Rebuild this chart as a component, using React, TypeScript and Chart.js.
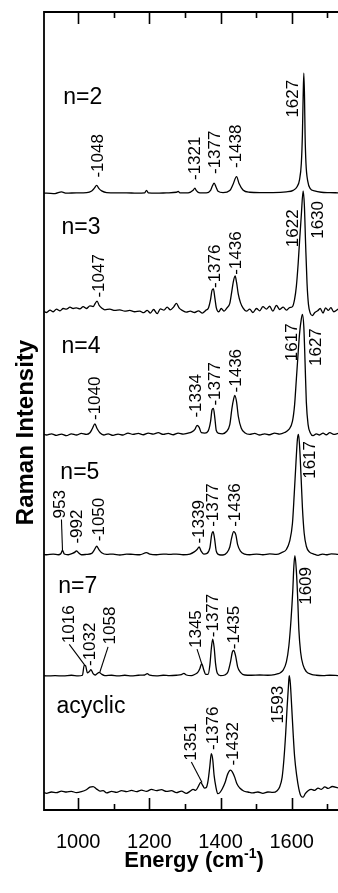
import React, { useEffect, useRef } from 'react';
import { Chart, registerables } from 'chart.js';

Chart.register(...registerables);

// ---- axes ----
const X_MIN = 904;
const X_MAX = 1730;
const Y_MIN = 0;
const Y_MAX = 665;
const X_TICK_LABELS = [1000, 1200, 1400, 1600];
const X_MINOR_TICKS = [1100, 1300, 1500, 1700];
const X_TITLE_MAIN = 'Energy (cm';
const X_TITLE_SUP = '-1';
const X_TITLE_END = ')';
const Y_TITLE = 'Raman Intensity';

// ---- spectra (wavenumber cm-1, relative intensity %) ----
const SPECTRUM_NAMES = ['n=2', 'n=3', 'n=4', 'n=5', 'n=7', 'acyclic'];
const OFFSETS = [514, 416, 313, 213, 112, 15];

const N2: number[][] = [
  [904, 0], [911, 0], [935, -0.3], [953, 1.1], [967, 0], [995, 0.3], [1024, 0.5], [1038, 1.9], [1045, 4], [1052, 6.5],
  [1058, 4], [1066, 1.9], [1080, 0.5], [1108, 0.3], [1136, 0.3], [1164, 0], [1187, 0.3], [1192, 2.4], [1197, 0.3],
  [1220, 0], [1248, 0.3], [1276, 0.8], [1281, 1.4], [1286, 0.3], [1309, 0.3], [1323, 2.4], [1328, 4.3], [1332, 2.2],
  [1342, 0.3], [1360, 0.3], [1372, 2.4], [1377, 6], [1382, 8.4], [1387, 5.4], [1393, 1.6], [1407, 0.5], [1426, 2.2],
  [1435, 7.3], [1445, 13.8], [1452, 8.1], [1463, 2.7], [1482, 0.8], [1510, 0.5], [1547, 0.5], [1585, 1.1], [1604, 2.4],
  [1615, 5.4], [1622, 11.4], [1627, 25], [1630, 49], [1632, 79], [1634, 100], [1636, 79], [1637.5, 49], [1640, 25],
  [1645, 10], [1652, 3.8], [1664, 1.9], [1683, 0.8], [1707, 0.5], [1730, 0.3],
];

const N3: number[][] = [
  [904, -0.5], [911, -1.4], [921, 0.5], [930, -0.8], [939, 1.4], [949, 0], [958, 1.9], [967, 1.4], [977, 3], [986, 1.9],
  [995, 2.4], [1005, 1.6], [1014, 3.5], [1023, 1.9], [1033, 4.1], [1042, 3.5], [1048, 6.2], [1053, 8.1], [1059, 4.6],
  [1066, 2.4], [1075, 0.8], [1089, 1.4], [1103, 0.3], [1117, 0.8], [1131, -0.3], [1145, 0.3], [1159, -0.8], [1173, -0.3],
  [1184, -1.6], [1194, 0.3], [1203, -1.9], [1212, 1.1], [1222, -2.4], [1231, 1.6], [1241, 0.5], [1250, 3], [1259, 0.8],
  [1269, 3.5], [1276, 6.2], [1284, 2.2], [1293, 0.3], [1304, -1.1], [1315, -0.3], [1327, -1.4], [1338, 0], [1349, -1.9],
  [1358, 0.3], [1366, 2.4], [1372, 9.5], [1376, 17], [1380, 18.2], [1384, 10.8], [1388, 2.7], [1395, -0.8], [1402, 1.9],
  [1410, -0.3], [1418, 2.4], [1426, 6.2], [1431, 14.9], [1436, 24.4], [1441, 29], [1445, 23.6], [1450, 13.6], [1456, 6.8],
  [1463, 2.4], [1473, -0.3], [1482, 1.4], [1491, -1.4], [1501, 1.9], [1510, 0], [1519, 3.5], [1529, 1.4], [1538, 3.8],
  [1547, -0.3], [1557, 4.6], [1566, 1.1], [1576, 3], [1585, 0.5], [1594, 2.7], [1602, 3.5], [1608, 9.5], [1613, 20.3],
  [1618, 39], [1622, 58], [1627, 80], [1632, 100], [1635.5, 88], [1639, 55.6], [1643, 23], [1647, 5.4], [1652, -1.9],
  [1658, -4], [1665, -1.4], [1673, 0], [1680, 1.9], [1688, -1.9], [1695, 2.4], [1703, 0.3], [1710, 2.7], [1718, -0.8],
  [1730, 1.4],
];

const N4: number[][] = [
  [904, 0], [911, -0.5], [925, 0.5], [939, -0.8], [953, 0.3], [967, -1.1], [981, 0.5], [995, -0.5], [1009, 0.8], [1023, 0],
  [1033, 1.4], [1040, 4.9], [1047, 8.7], [1053, 4.9], [1061, 1.4], [1072, -0.5], [1084, 0.5], [1098, -0.8], [1112, 0.3],
  [1126, -0.5], [1140, 1.1], [1154, 0], [1169, 0.8], [1183, -0.3], [1197, 1.1], [1211, 0.3], [1225, 1.4], [1239, 0],
  [1253, 0.8], [1267, -0.3], [1281, 1.1], [1295, 0.3], [1309, 1.1], [1318, 1.9], [1328, 4.1], [1334, 7.6], [1340, 5.9],
  [1346, 1.4], [1356, 1.1], [1365, 2.7], [1372, 10.8], [1376, 20.3], [1380, 21.7], [1384, 13.6], [1388, 3.3], [1396, 0.8],
  [1405, 0.5], [1416, 2.2], [1426, 8.1], [1432, 21.7], [1437, 29.8], [1440, 32.5], [1445, 27.1], [1450, 14.9], [1458, 5.4],
  [1468, 1.4], [1482, 0], [1496, 0.8], [1510, -0.5], [1524, 0.5], [1538, -0.3], [1552, 1.1], [1566, 0.3], [1580, 1.6],
  [1592, 4.1], [1602, 10.8], [1608, 24.4], [1613, 46], [1618, 67.8], [1622, 84], [1627, 96.2], [1630, 100], [1634, 89.4],
  [1637.5, 59.6], [1641, 27.1], [1646, 8.1], [1652, 1.4], [1660, -1.1], [1669, 0.5], [1678, -0.5], [1688, 1.1],
  [1697, -0.3], [1707, 1.4], [1718, 0], [1730, 0.8],
];

const N5: number[][] = [
  [904, 0], [911, -0.3], [930, 0.3], [944, -0.3], [951, 0.5], [956, 3.3], [961, 0.3], [972, -0.3], [984, 0.8], [991, 1.9],
  [995, 3], [1001, 1.4], [1009, -0.3], [1023, 0], [1038, 0.8], [1045, 3.5], [1052, 6.8], [1058, 4.1], [1066, 1.4],
  [1080, 0], [1098, 0.3], [1117, -0.5], [1136, 0.3], [1154, 0], [1173, -0.3], [1192, 1.4], [1201, 0.3], [1220, -0.3],
  [1239, 0.3], [1257, 0], [1276, 0.3], [1295, -0.3], [1314, 0.3], [1325, 1.9], [1334, 4.1], [1340, 6.2], [1345, 3],
  [1353, 0.3], [1362, 0.8], [1370, 5.4], [1375, 16.3], [1379, 19], [1383, 13.6], [1388, 2.7], [1396, -0.3], [1407, -0.5],
  [1418, 1.4], [1426, 6.2], [1431, 13.6], [1437, 19], [1443, 16.3], [1448, 8.1], [1456, 2.7], [1468, 0.3], [1482, -0.3],
  [1501, 0.3], [1519, -0.3], [1538, 0.5], [1557, 0], [1571, 1.4], [1585, 4.1], [1594, 10.8], [1602, 25.7], [1607, 50],
  [1612, 77], [1616, 96], [1619, 100], [1622, 90.8], [1626, 66.4], [1630, 39.3], [1635, 17.6], [1641, 6.8], [1650, 1.9],
  [1662, 0.3], [1674, -0.8], [1686, 0.3], [1697, -0.3], [1711, 0.5], [1730, 0],
];

const N7: number[][] = [
  [904, 0], [911, -0.3], [935, 0], [958, -0.3], [981, 0.3], [1000, -0.3], [1012, 0.3], [1017, 8.7], [1021, 8.1],
  [1026, 2.2], [1031, 3.3], [1036, 4.9], [1042, 1.6], [1048, 0.5], [1053, 1.6], [1059, 2.7], [1066, 1.1], [1075, 0],
  [1094, 0.3], [1112, -0.3], [1131, 0.3], [1150, -0.3], [1169, 0.3], [1187, 0.5], [1194, 1.6], [1201, 0.3], [1220, -0.3],
  [1239, 0.3], [1257, 0], [1276, 0.3], [1290, 0.8], [1297, 1.9], [1304, 0.5], [1318, 0], [1328, 1.1], [1336, 2.7],
  [1342, 6], [1347, 10], [1353, 4.6], [1358, 1.1], [1365, 1.1], [1370, 8.7], [1374, 22.2], [1378, 30.4], [1382, 23.6],
  [1386, 10], [1391, 1.9], [1400, 0], [1412, 0.5], [1421, 3.3], [1428, 11.4], [1433, 19.5], [1437, 20.9], [1442, 16.8],
  [1448, 7.3], [1456, 2.7], [1468, 0.5], [1487, 0.3], [1510, 0.5], [1533, 0.3], [1552, 0.8], [1562, 1.6], [1568, 2.4],
  [1576, 4.6], [1585, 11.4], [1592, 24.9], [1598, 46.6], [1603, 71], [1606, 91.3], [1609, 100], [1613, 87.3], [1617, 62.9],
  [1620, 38.5], [1625, 19.5], [1632, 8.7], [1641, 3.3], [1655, 1.1], [1669, 0.3], [1688, 0], [1707, 0.3], [1730, 0],
];

const ACYCLIC: number[][] = [
  [904, -0.5], [911, -1.1], [925, 0], [939, -0.5], [953, 0.8], [967, 0], [981, 0.5], [995, -0.5], [1009, 0.3], [1023, 1.9],
  [1033, 4.1], [1042, 4.5], [1052, 2.4], [1061, 0.8], [1070, 1.1], [1080, -0.8], [1094, 0.5], [1108, -0.3], [1122, 1.1],
  [1136, 0.3], [1150, 1.4], [1164, 0.3], [1178, 1.6], [1192, 0.5], [1206, 2.2], [1220, 1.1], [1234, 1.9], [1248, 0.5],
  [1262, 1.1], [1276, -0.5], [1290, 0.8], [1304, -1.1], [1314, 0.5], [1323, 2.2], [1330, 1.4], [1338, 4.9], [1344, 8.1],
  [1349, 6], [1355, 3.3], [1360, 3.8], [1365, 9.5], [1370, 21.7], [1374, 32], [1378, 27.1], [1382, 13.6], [1387, 4.1],
  [1392, -1.4], [1398, -0.5], [1405, 2.7], [1413, 8.1], [1420, 14.9], [1428, 18.2], [1433, 16.8], [1440, 12.2],
  [1446, 6.8], [1454, 3.3], [1465, 0.8], [1477, 0], [1491, -0.8], [1505, 0], [1519, -1.1], [1533, 0], [1547, -0.3],
  [1559, 1.1], [1566, 4.1], [1573, 12.2], [1578, 27.1], [1583, 48.8], [1587, 70.5], [1591, 89.4], [1593, 97], [1596, 90.8],
  [1600, 70.5], [1604, 48.8], [1608, 29.8], [1614, 13.6], [1620, 2.7], [1626, -3.3], [1632, -4.3], [1638, -1.4],
  [1646, 1.1], [1655, 2.2], [1664, 1.4], [1674, 3.3], [1683, 2.2], [1693, 4.3], [1702, 3], [1714, 4.6], [1730, 3.5],
];

const SPECTRA = [N2, N3, N4, N5, N7, ACYCLIC];

// spectrum name anchors [wavenumber, intensity] (left end, baseline)
const NAME_ANCHORS = [
  [958, 588], [953, 480], [953, 381], [950, 276], [944, 181], [939, 81],
];

// peak labels [text, wavenumber, intensity] (text runs upward from this point)
const PEAK_LABELS: [string, number, number][] = [
  ['-1048', 1056, 527], ['-1321', 1328, 525], ['-1377', 1384, 530], ['-1438', 1445, 535], ['1627', 1604, 577],
  ['-1047', 1059, 427], ['-1376', 1384, 435], ['-1436', 1445, 446], ['1622', 1604, 469], ['1630', 1675, 476],
  ['-1040', 1047, 325], ['-1334', 1333, 327], ['-1377', 1384, 337], ['-1436', 1445, 348], ['1617', 1602, 374], ['1627', 1670, 370],
  ['953', 950, 243], ['-992', 997, 222], ['-1050', 1059, 224], ['-1339', 1340, 222], ['-1377', 1381, 236], ['-1436', 1441, 236], ['1617', 1651, 276],
  ['1016', 974, 139], ['-1032', 1034, 120], ['1058', 1089, 138], ['1345', 1333, 135], ['-1377', 1381, 144], ['-1435', 1439, 134], ['1609', 1642, 171],
  ['1351', 1318, 41], ['-1376', 1380, 50], ['-1432', 1436, 37], ['1593', 1562, 72],
];

// leader lines [[x1, y1], [x2, y2]]
const LEADERS = [
  [[953, 242], [956, 216]],
  [[975, 138], [1018, 121]],
  [[1084, 136], [1061, 115]],
  [[1334, 134], [1347, 122]],
  [[1318, 40], [1348, 23]],
];

const FONT = '"Liberation Sans", Arial, Helvetica, sans-serif';

const overlayPlugin = {
  id: 'overlay',
  afterDatasetsDraw(chart: any) {
    const { ctx, chartArea: a, scales } = chart;
    const xs = scales.x;
    const ys = scales.y;
    ctx.save();
    ctx.strokeStyle = '#000';
    ctx.fillStyle = '#000';

    // frame (left, top, bottom)
    ctx.lineWidth = 1.8;
    ctx.beginPath();
    ctx.moveTo(a.right + 5, a.top);
    ctx.lineTo(a.left, a.top);
    ctx.lineTo(a.left, a.bottom);
    ctx.lineTo(a.right + 5, a.bottom);
    ctx.stroke();

    // inward ticks top & bottom
    ctx.lineWidth = 1.6;
    const tickSet: [number, number][] = [
      ...X_TICK_LABELS.map((v) => [v, 12] as [number, number]),
      ...X_MINOR_TICKS.map((v) => [v, 6] as [number, number]),
    ];
    tickSet.forEach(([v, len]) => {
      const px = Math.round(xs.getPixelForValue(v)) + 0.5;
      ctx.beginPath();
      ctx.moveTo(px, a.top);
      ctx.lineTo(px, a.top + len);
      ctx.moveTo(px, a.bottom);
      ctx.lineTo(px, a.bottom - len);
      ctx.stroke();
    });

    // spectrum names
    ctx.font = `23px ${FONT}`;
    ctx.textAlign = 'left';
    ctx.textBaseline = 'alphabetic';
    SPECTRUM_NAMES.forEach((name, i) => {
      const [x, y] = NAME_ANCHORS[i];
      ctx.fillText(name, xs.getPixelForValue(x), ys.getPixelForValue(y));
    });

    // peak labels (rotated)
    ctx.font = `17px ${FONT}`;
    ctx.textBaseline = 'middle';
    PEAK_LABELS.forEach(([t, x, y]) => {
      ctx.save();
      ctx.translate(xs.getPixelForValue(x), ys.getPixelForValue(y));
      ctx.rotate(-Math.PI / 2);
      ctx.fillText(t, 0, 0);
      ctx.restore();
    });

    // leader lines
    ctx.lineWidth = 1.1;
    LEADERS.forEach(([p1, p2]) => {
      ctx.beginPath();
      ctx.moveTo(xs.getPixelForValue(p1[0]), ys.getPixelForValue(p1[1]));
      ctx.lineTo(xs.getPixelForValue(p2[0]), ys.getPixelForValue(p2[1]));
      ctx.stroke();
    });

    // x title with superscript
    ctx.textBaseline = 'alphabetic';
    ctx.textAlign = 'left';
    ctx.font = `bold 22px ${FONT}`;
    const w1 = ctx.measureText(X_TITLE_MAIN).width;
    const w3 = ctx.measureText(X_TITLE_END).width;
    ctx.font = `bold 14px ${FONT}`;
    const w2 = ctx.measureText(X_TITLE_SUP).width;
    const total = w1 + w2 + w3;
    const cx = a.left + 150;
    const by = a.bottom + 57;
    let sx = cx - total / 2;
    ctx.font = `bold 22px ${FONT}`;
    ctx.fillText(X_TITLE_MAIN, sx, by);
    sx += w1;
    ctx.font = `bold 14px ${FONT}`;
    ctx.fillText(X_TITLE_SUP, sx, by - 9);
    sx += w2;
    ctx.font = `bold 22px ${FONT}`;
    ctx.fillText(X_TITLE_END, sx, by);

    // y title
    ctx.font = `bold 24px ${FONT}`;
    ctx.textAlign = 'center';
    ctx.save();
    ctx.translate(a.left - 11, 432.5);
    ctx.rotate(-Math.PI / 2);
    ctx.fillText(Y_TITLE, 0, 0);
    ctx.restore();

    ctx.restore();
  },
};

export default function App() {
  const canvasRef = useRef<HTMLCanvasElement | null>(null);

  useEffect(() => {
    const canvas = canvasRef.current;
    if (!canvas) return;
    const chart = new Chart(canvas, {
      type: 'line',
      data: {
        datasets: SPECTRA.map((s, i) => ({
          label: SPECTRUM_NAMES[i],
          data: s.map(([x, v]) => ({ x, y: v + OFFSETS[i] })),
          borderColor: '#000',
          borderWidth: 1.3,
          pointRadius: 0,
          fill: false,
          cubicInterpolationMode: 'monotone' as const,
        })),
      },
      options: {
        responsive: false,
        maintainAspectRatio: false,
        animation: false,
        layout: { padding: { left: 44, top: 12, right: 0, bottom: 27 } },
        plugins: { legend: { display: false }, tooltip: { enabled: false } },
        scales: {
          x: {
            type: 'linear',
            min: X_MIN,
            max: X_MAX,
            grid: { display: false },
            border: { display: false },
            afterBuildTicks: (scale: any) => {
              scale.ticks = X_TICK_LABELS.map((v) => ({ value: v }));
            },
            ticks: {
              color: '#000',
              padding: 12,
              maxRotation: 0,
              autoSkip: false,
              font: { family: FONT, size: 20 },
              callback: (v: any) => String(v),
            },
          },
          y: {
            type: 'linear',
            min: Y_MIN,
            max: Y_MAX,
            display: false,
          },
        },
      },
      plugins: [overlayPlugin],
    });
    return () => chart.destroy();
  }, []);

  return (
    <div style={{ position: 'absolute', left: 0, top: 0, width: 338, height: 893, background: '#fff' }}>
      <canvas ref={canvasRef} width={338} height={893} style={{ display: 'block', width: 338, height: 893 }} />
    </div>
  );
}
